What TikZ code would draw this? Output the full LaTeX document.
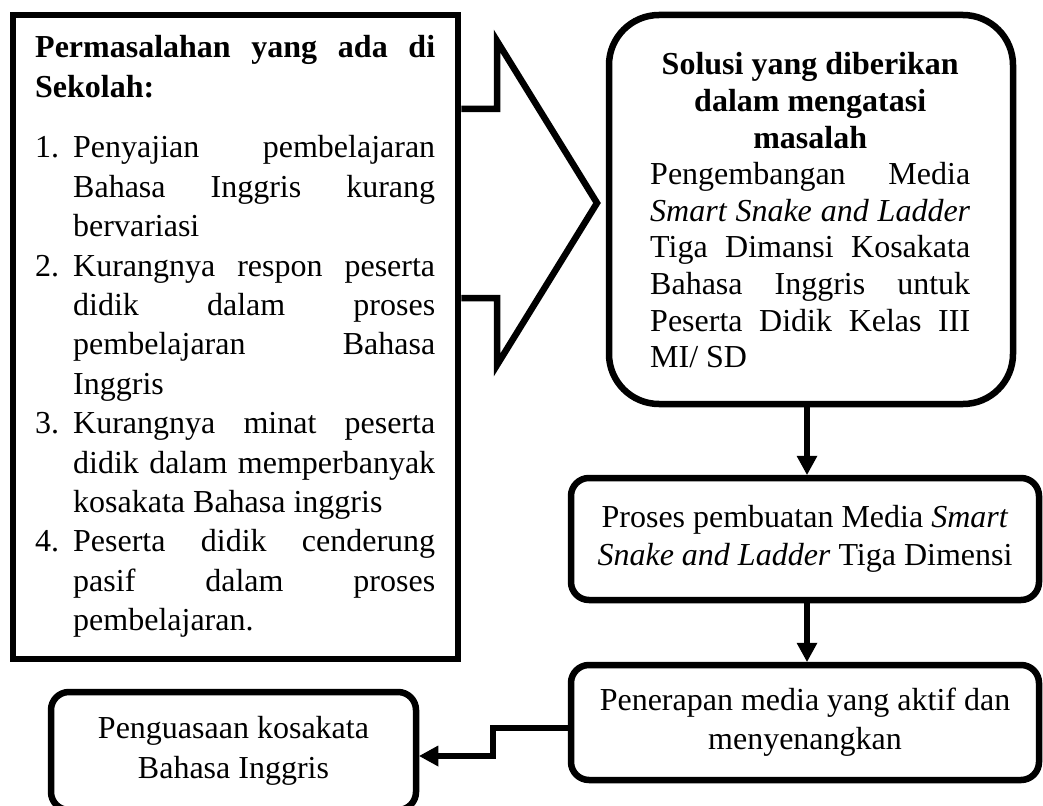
\documentclass[tikz,border=0pt]{standalone}
\usepackage{fontspec}
\setmainfont{Liberation Serif}
\usetikzlibrary{arrows.meta}
\newcommand\JL[2]{\makebox[#1][s]{#2}}
\begin{document}
\begin{tikzpicture}[x=1pt,y=-1pt,
  every node/.style={font=\fontsize{32}{38.5}\selectfont},
  frame/.style={draw, line width=6.5pt, inner sep=0pt},
  roundbox/.style={frame, rounded corners=18pt, align=center},
  conn/.style={line width=6.5pt, -{Triangle[length=19pt,width=21pt,line width=0pt]}},
  txt/.style={inner sep=0pt, anchor=base west},
  bigarrow/.style={line width=6.5pt, line join=miter}]
\useasboundingbox (0,0) rectangle (1043,805);
\clip (0,0) rectangle (1043,805);
\fill[white] (0,0) rectangle (1043,805);

% boxes
\node[frame, minimum width=445pt, minimum height=644pt] (prob) at (235.5,337) {};
\node[frame, rounded corners=50pt, minimum width=404pt, minimum height=389pt] (sol) at (811,209.5) {};
\node[roundbox, minimum width=468pt, minimum height=122pt] (proses) at (805,539)
  {Proses pembuatan Media \textit{Smart}\\\textit{Snake and Ladder} Tiga Dimensi};
\node[roundbox, minimum width=468pt, minimum height=115pt, font=\fontsize{32}{39}\selectfont] (pener) at (805,722.5)
  {Penerapan media yang aktif dan\\menyenangkan};
\node[roundbox, minimum width=365pt, minimum height=118pt, font=\fontsize{32}{40}\selectfont] (pengu) at (233.5,751)
  {Penguasaan kosakata\\Bahasa Inggris};

% text of the left box
\node[txt] (ptext) at (35,58) {\parbox[t]{400pt}{\fontsize{32}{39.4}\selectfont
\JL{400pt}{\bfseries Permasalahan yang ada di}\\
\textbf{Sekolah:}\\[21.2pt]
\makebox[38pt][l]{1.}\JL{362pt}{Penyajian pembelajaran}\\
\hspace*{38pt}\JL{362pt}{Bahasa Inggris kurang}\\
\hspace*{38pt}bervariasi\\
\makebox[38pt][l]{2.}\JL{362pt}{Kurangnya respon peserta}\\
\hspace*{38pt}\JL{362pt}{didik dalam proses}\\
\hspace*{38pt}\JL{362pt}{pembelajaran Bahasa}\\
\hspace*{38pt}Inggris\\
\makebox[38pt][l]{3.}\JL{362pt}{Kurangnya minat peserta}\\
\hspace*{38pt}\JL{362pt}{didik dalam memperbanyak}\\
\hspace*{38pt}kosakata Bahasa inggris\\
\makebox[38pt][l]{4.}\JL{362pt}{Peserta didik cenderung}\\
\hspace*{38pt}\JL{362pt}{pasif dalam proses}\\
\hspace*{38pt}pembelajaran.}};

% text of the solution box
\node[txt] (stext) at (650,75) {\parbox[t]{320pt}{\fontsize{32}{36.6}\selectfont
\makebox[320pt][c]{\bfseries Solusi yang diberikan}\\
\makebox[320pt][c]{\bfseries dalam mengatasi}\\
\makebox[320pt][c]{\bfseries masalah}\\
\JL{320pt}{Pengembangan Media}\\
\JL{320pt}{\itshape Smart Snake and Ladder}\\
\JL{320pt}{Tiga Dimansi Kosakata}\\
\JL{320pt}{Bahasa Inggris untuk}\\
\JL{320pt}{Peserta Didik Kelas III}\\
MI/ SD}};

% big block arrow
\coordinate (t1) at (497,109);
\coordinate (h1) at (497,41);
\coordinate (tip) at (597,203);
\coordinate (h2) at (497,365);
\coordinate (t2) at (497,298);
\draw[bigarrow] (prob.east |- t1) -- (t1) -- (h1) -- (tip) -- (h2) -- (t2) -- (prob.east |- t2);

% connectors
\coordinate (a1) at (807,0);
\draw[conn] (sol.south -| a1) -- (proses.north -| a1);
\draw[conn] (proses.south -| a1) -- (pener.north -| a1);
\coordinate (k1) at (493,728);
\coordinate (k2) at (493,756);
\draw[conn, line join=miter] (pener.west |- k1) -- (k1) -- (k2) -- (pengu.east |- k2);
\end{tikzpicture}
\end{document}
